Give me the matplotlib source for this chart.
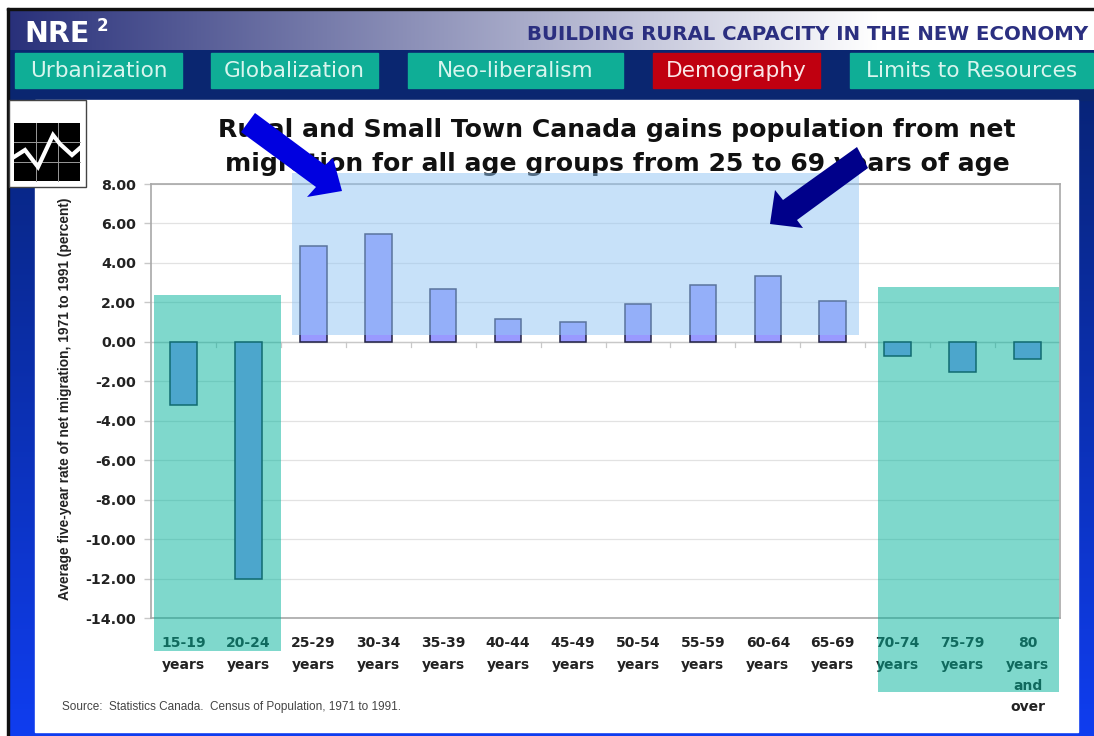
import numpy as np
import matplotlib
matplotlib.use("Agg")
import matplotlib.pyplot as plt
from matplotlib.patches import Rectangle, Polygon

# ---------- data ----------
age_groups = ["15-19\nyears", "20-24\nyears", "25-29\nyears", "30-34\nyears", "35-39\nyears",
              "40-44\nyears", "45-49\nyears", "50-54\nyears", "55-59\nyears", "60-64\nyears",
              "65-69\nyears", "70-74\nyears", "75-79\nyears", "80\nyears\nand\nover"]
net_migration = [-3.2, -12.0, 4.87, 5.47, 2.69, 1.17, 1.0, 1.93, 2.89, 3.35, 2.08, -0.7, -1.55, -0.85]
y_ticks = [8, 6, 4, 2, 0, -2, -4, -6, -8, -10, -12, -14]
tabs = ["Urbanization", "Globalization", "Neo-liberalism", "Demography", "Limits to Resources"]
title_lines = "Rural and Small Town Canada gains population from net\nmigration for all age groups from 25 to 69 years of age"
y_label = "Average five-year rate of net migration, 1971 to 1991 (percent)"
source_text = "Source:  Statistics Canada.  Census of Population, 1971 to 1991."
banner_text = "BUILDING RURAL CAPACITY IN THE NEW ECONOMY"

W, H = 1094, 736
WIDE = "DejaVu Sans"
fig = plt.figure(figsize=(W / 100, H / 100), dpi=100, facecolor="white")

# ---------- slide background (pixel coordinates) ----------
bg = fig.add_axes([0, 0, 1, 1], zorder=0)
bg.set_xlim(0, W); bg.set_ylim(H, 0); bg.axis("off")
side = np.linspace(0, 1, 256).reshape(-1, 1, 1) * np.array([[[0.03, 0.10, 0.47]]]) + np.array([[[0.03, 0.14, 0.47]]])
bg.imshow(side, extent=(9, W, 736, 90), aspect="auto", zorder=1)
bg.add_patch(Rectangle((9, 50), W - 9, 50, color="#0a2670", zorder=2))
grad = np.linspace(0, 1, 512).reshape(1, -1, 1)
start = np.array([[[0.16, 0.19, 0.48]]]); end = np.array([[[1, 1, 1]]])
bg.imshow(np.clip(start + (end - start) * grad / 0.8, 0, 1), extent=(9, W, 50, 10), aspect="auto", zorder=2)
bg.set_xlim(0, W); bg.set_ylim(H, 0)
bg.add_patch(Rectangle((7, 8), W - 7, 2.4, color="#111111", zorder=3))
bg.add_patch(Rectangle((7, 8), 2.4, H - 8, color="#111111", zorder=3))
bg.add_patch(Rectangle((35, 100), 1043, 632, color="white", zorder=3))

bg.text(24, 34, "NRE", color="white", fontsize=20.5, fontweight="bold", ha="left", va="center",
        family="DejaVu Sans", zorder=4)
bg.text(97, 26, "2", color="white", fontsize=12, fontweight="bold", ha="left", va="center",
        family="DejaVu Sans", zorder=4)
bg.text(1088, 34.5, banner_text, color="#2b2f80", fontsize=14.2, fontweight="bold", ha="right", va="center",
        family="DejaVu Sans", zorder=4)

tab_boxes = [(15, 182), (211, 378), (408, 623), (653, 820), (850, 1093)]
for label, (x0, x1) in zip(tabs, tab_boxes):
    c = "#c00010" if label == "Demography" else "#0fae96"
    bg.add_patch(Rectangle((x0, 53), x1 - x0, 35, color=c, zorder=4))
    bg.text((x0 + x1) / 2, 71, label, color="#d8f5ee" if c != "#c00010" else "#fbe6e6",
            fontsize=15.6, ha="center", va="center", family="DejaVu Sans", zorder=5)

bg.text(617, 147, title_lines, ha="center", va="center", fontsize=18.1, fontweight="bold", color="#111111",
        family=WIDE, linespacing=1.5, zorder=5)
bg.text(62, 707, source_text, fontsize=8.5, color="#444444", ha="left", va="center",
        family="Liberation Sans", zorder=5)

# ---------- chart ----------
L, R, T, B = 151, 1060, 184, 618
ax = fig.add_axes([L / W, 1 - B / H, (R - L) / W, (B - T) / H], zorder=1, facecolor="none")
x = np.arange(len(age_groups))
ax.set_xlim(-0.5, len(age_groups) - 0.5)
ax.set_ylim(-14, 8)
ax.set_axisbelow(True)
ax.yaxis.grid(True, color="#e2e2e2", lw=0.9)
ax.bar(x, net_migration, width=0.41, color="#9999ff", edgecolor="#222244", linewidth=1.1, zorder=3)
ax.axhline(0, color="#c8c8c8", lw=1, zorder=2)
for xb in x[:-1] + 0.5:
    ax.plot([xb, xb], [0, -0.25], color="#c8c8c8", lw=0.9, zorder=2)
ax.set_yticks(y_ticks)
ax.set_yticklabels([f"{v:.2f}" for v in y_ticks], fontsize=10.2, fontweight="bold", color="#222222", family=WIDE)
ax.set_xticks(x)
ax.set_xticklabels(age_groups, fontsize=10, fontweight="bold", color="#222222", family=WIDE, linespacing=1.66, va="top")
ax.tick_params(axis="x", length=0, pad=13.2)
ax.tick_params(axis="y", length=5, width=1, color="#c8c8c8", pad=6)
for s in ax.spines.values():
    s.set_color("#a8a8a8"); s.set_linewidth(1.2)
ax.set_ylabel(y_label, fontsize=9.9, fontweight="bold", color="#222222", family="Liberation Sans")
ax.yaxis.set_label_coords((72 - L) / (R - L), 0.505)

# ---------- overlays ----------
ov = fig.add_axes([0, 0, 1, 1], zorder=2, facecolor="none")
ov.set_xlim(0, W); ov.set_ylim(H, 0); ov.axis("off")
ov.add_patch(Rectangle((292, 173), 567, 162, facecolor="#91c5f5", alpha=0.5, lw=0))
ov.add_patch(Rectangle((154, 295), 127, 356, facecolor="#00b39b", alpha=0.5, lw=0))
ov.add_patch(Rectangle((878, 287), 181, 405, facecolor="#00b39b", alpha=0.5, lw=0))
ov.add_patch(Polygon([(255, 113), (325, 165), (333, 158), (342, 191), (307, 197), (316, 187), (241, 132)],
                     closed=True, color="#0000e0", lw=0))
ov.add_patch(Polygon([(857, 147), (868, 168), (797, 220), (803, 228), (770, 224), (775, 190), (783, 200)],
                     closed=True, color="#00008a", lw=0))

# icon
ov.add_patch(Rectangle((9, 100), 77, 87, facecolor="white", edgecolor="#444444", lw=1))
ov.add_patch(Rectangle((14, 123), 66, 58, facecolor="black", lw=0))
for gx in (36, 58):
    ov.plot([gx, gx], [123, 181], color="#999999", lw=0.7)
for gy in (142, 162):
    ov.plot([14, 80], [gy, gy], color="#999999", lw=0.7)
ov.plot([14, 25, 38, 53, 60, 72, 80], [157, 150, 167, 135, 144, 155, 148], color="white", lw=3, solid_joinstyle="miter")

fig.savefig("out.png", dpi=100)
